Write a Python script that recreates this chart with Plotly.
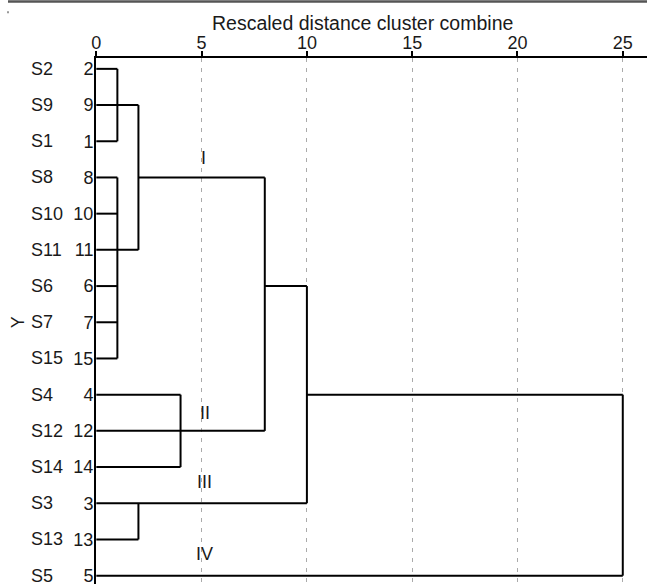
import plotly.graph_objects as go

# ---- data ----
leaf_order = [2, 9, 1, 8, 10, 11, 6, 7, 15, 4, 12, 14, 3, 13, 5]
sample_labels = ["S2", "S9", "S1", "S8", "S10", "S11", "S6", "S7", "S15",
                 "S4", "S12", "S14", "S3", "S13", "S5"]
x_ticks = [0, 5, 10, 15, 20, 25]

# horizontal segments: (leaf, distance from, distance to)
h_segments = [
    (2, 0, 1), (9, 0, 2), (1, 0, 1),
    (8, 0, 1), (8, 2, 8),
    (10, 0, 1), (11, 0, 2),
    (6, 0, 1), (6, 8, 10),
    (7, 0, 1), (15, 0, 1),
    (4, 0, 4), (4, 10, 25),
    (12, 0, 8), (14, 0, 4),
    (3, 0, 10), (13, 0, 2), (5, 0, 25),
]
# vertical segments: (distance, leaf from, leaf to)
v_segments = [
    (1, 2, 1), (2, 9, 11), (1, 8, 15), (8, 8, 12),
    (4, 4, 14), (10, 6, 3), (2, 3, 13), (25, 4, 5),
]
# cluster names and their label positions (distance, row position)
cluster_names = ["I", "II", "III", "IV"]
cluster_x = [5.07, 5.15, 5.15, 5.15]
cluster_y = [2.45, 9.5, 11.4, 13.4]

pos = {leaf: i for i, leaf in enumerate(leaf_order)}

xs, ys = [], []
for leaf, a, b in h_segments:
    xs += [a, b, None]
    ys += [pos[leaf], pos[leaf], None]
for d, l0, l1 in v_segments:
    xs += [d, d, None]
    ys += [pos[l0], pos[l1], None]

FONT = "Liberation Sans, Arial, sans-serif"
TXT = "#1a1a1a"

fig = go.Figure()
fig.add_trace(go.Scatter(x=xs, y=ys, mode="lines",
                         line=dict(color="black", width=2),
                         hoverinfo="skip", showlegend=False))

ann = []
for i, s in enumerate(sample_labels):
    ann.append(dict(x=-(96-29)/551, xref="paper", y=i, yref="y", text=s,
                    xanchor="left", yanchor="middle", showarrow=False,
                    font=dict(size=18, color=TXT, family=FONT)))
for n, cx, cy in zip(cluster_names, cluster_x, cluster_y):
    ann.append(dict(x=cx, y=cy, xref="x", yref="y", text=n, showarrow=False,
                    xanchor="center", yanchor="middle",
                    font=dict(size=18, color=TXT, family=FONT)))
ann.append(dict(x=0.483, xref="paper", y=1.0 + 35/528, yref="paper",
                text="Rescaled distance cluster combine", showarrow=False,
                xanchor="center", yanchor="middle",
                font=dict(size=19.5, color=TXT, family=FONT)))
ann.append(dict(x=-(96-18)/551, xref="paper", y=7, yref="y", text="Y",
                textangle=-90, showarrow=False, xanchor="center", yanchor="middle",
                font=dict(size=18, color=TXT, family=FONT)))

fig.update_layout(
    width=647, height=586,
    margin=dict(l=96, r=0, t=58, b=0),
    paper_bgcolor="white", plot_bgcolor="white",
    font=dict(family=FONT, size=18, color=TXT),
    annotations=ann,
    shapes=[dict(type="rect", xref="paper", yref="paper",
                 x0=(8-96)/551, x1=(647-96)/551, y0=1+55.5/528, y1=1+58/528,
                 line=dict(width=0), fillcolor="#555555", layer="above"),
            dict(type="rect", xref="paper", yref="paper",
                 x0=(7-96)/551, x1=(9-96)/551, y0=1+(58-11)/528, y1=1+(58-13)/528,
                 line=dict(width=0), fillcolor="#999999")],
    xaxis=dict(side="top", range=[-0.015, 26.15], tickvals=x_ticks,
               showline=True, linecolor="black", linewidth=2,
               ticks="outside", ticklen=5, tickwidth=2, tickcolor="black",
               ticklabelstandoff=-5,
               showgrid=True, gridcolor="#aaaaaa", gridwidth=1, griddash="4px,6px",
               zeroline=False, tickfont=dict(size=18, color=TXT, family=FONT)),
    yaxis=dict(range=[14.23, -0.30], tickvals=list(range(len(leaf_order))),
               ticktext=[str(v) for v in leaf_order],
               showline=True, linecolor="black", linewidth=2,
               ticks="", ticklabelstandoff=-3, ticklabeloverflow="allow",
               showgrid=False, zeroline=False,
               tickfont=dict(size=18, color=TXT, family=FONT)),
)

fig.write_html("out.html", config={"displayModeBar": False},
               post_script="document.body.style.margin='0';document.body.style.padding='0';")
